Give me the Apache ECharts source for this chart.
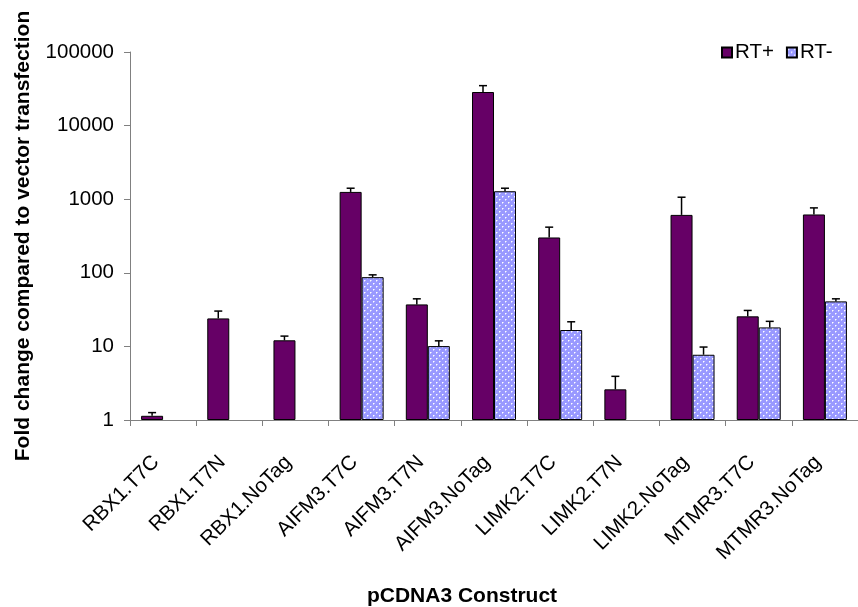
<!DOCTYPE html>
<html>
<head>
<meta charset="utf-8">
<script src="https://cdn.jsdelivr.net/npm/echarts@6/dist/echarts.min.js"></script>
<style>
  html, body { margin: 0; padding: 0; background: #fff; }
  #chart { width: 858px; height: 607px; }
</style>
</head>
<body>
<div id="chart"></div>
<script>
// Constructs on the x axis
const categories = ['RBX1.T7C', 'RBX1.T7N', 'RBX1.NoTag', 'AIFM3.T7C', 'AIFM3.T7N', 'AIFM3.NoTag',
                    'LIMK2.T7C', 'LIMK2.T7N', 'LIMK2.NoTag', 'MTMR3.T7C', 'MTMR3.NoTag'];
// Fold change with reverse transcriptase
const rtPlus    = [1.14, 24, 12.1, 1256, 37.2, 28600, 302, 2.61, 612, 25.6, 620];
const rtPlusErr = [0.12, 6.2, 1.7, 154, 7.1, 6300, 115, 1.31, 452, 5.2, 142];
// Fold change without reverse transcriptase (no value where not measured)
const rtMinus    = [null, null, null, 87.3, 10.1, 1283, 16.7, null, 7.7, 18.1, 40.9];
const rtMinusErr = [null, null, null, 6.5, 1.8, 127, 4.9, null, 2.1, 3.8, 3.4];
// Decade ticks of the log axis
const yTicks = [1, 10, 100, 1000, 10000, 100000];

const FONT = '"Liberation Sans", Arial, sans-serif';
const BAR_W = 22;

// Dotted fill for the RT- bars
function dotTile() {
  const c = document.createElement('canvas');
  c.width = 6; c.height = 6;
  const g = c.getContext('2d');
  g.fillStyle = '#9999FF';
  g.fillRect(0, 0, 6, 6);
  g.fillStyle = '#FFFFFF';
  g.fillRect(1, 1, 1, 1);
  g.fillRect(4, 4, 1, 1);
  g.fillStyle = 'rgba(255,255,255,0.5)';
  g.fillRect(2, 1, 1, 1); g.fillRect(1, 2, 1, 1);
  g.fillRect(5, 4, 1, 1); g.fillRect(4, 5, 1, 1);
  return c;
}
const dotted = { image: dotTile(), repeat: 'repeat' };

// Upper error whiskers drawn at the bar's slot within the category
function errorSeries(values, errs, side) {
  const data = [];
  values.forEach((v, i) => { if (v != null) data.push([i, v, errs[i]]); });
  return {
    type: 'custom',
    z: 5,
    silent: true,
    data: data,
    renderItem: function (params, api) {
      const i = api.value(0), v = api.value(1), e = api.value(2);
      const base = api.coord([i, v]);
      const top = api.coord([i, v + e]);
      const x = base[0] + side * BAR_W / 2;
      const cap = 4;
      const style = { stroke: '#000', lineWidth: 1.5 };
      return {
        type: 'group',
        children: [
          { type: 'line', shape: { x1: x, y1: base[1], x2: x, y2: top[1] }, style: style },
          { type: 'line', shape: { x1: x - cap, y1: top[1], x2: x + cap, y2: top[1] }, style: style }
        ]
      };
    }
  };
}

const chart = echarts.init(document.getElementById('chart'), null, { renderer: 'canvas' });
chart.setOption({
  backgroundColor: '#ffffff',
  animation: false,
  textStyle: { fontFamily: FONT },
  grid: { left: 130, top: 52, width: 735, height: 368, containLabel: false },
  legend: {
    data: ['RT+', 'RT-'],
    left: 716, top: 37,
    itemWidth: 10, itemHeight: 10, itemGap: 12,
    icon: 'rect',
    textStyle: { fontSize: 20.5, color: '#000', fontFamily: FONT, padding: [0, 0, 0, -2] }
  },
  xAxis: {
    type: 'category',
    data: categories,
    boundaryGap: true,
    axisLine: { lineStyle: { color: '#808080', width: 1 } },
    axisTick: { show: true, alignWithLabel: false, interval: 0, length: 6, lineStyle: { color: '#808080' } },
    axisLabel: { interval: 0, rotate: 45, margin: 32, fontSize: 20.5, color: '#000', fontFamily: FONT,
                 padding: [0, 10, 21, 0] }
  },
  yAxis: {
    type: 'log',
    logBase: 10,
    min: yTicks[0],
    max: yTicks[yTicks.length - 1],
    splitNumber: yTicks.length - 1,
    axisLine: { show: true, lineStyle: { color: '#808080', width: 1 } },
    axisTick: { show: true, length: 6, lineStyle: { color: '#808080' } },
    minorTick: { show: false },
    splitLine: { show: false },
    axisLabel: {
      fontSize: 20.5, color: '#000', margin: 16, fontFamily: FONT,
      formatter: v => String(Math.round(v))
    }
  },
  graphic: [
    {
      type: 'text', x: 23, y: 236, rotation: Math.PI / 2,
      style: { text: 'Fold change compared to vector transfection', font: 'bold 21px ' + FONT,
               fill: '#000', textAlign: 'center', textVerticalAlign: 'middle' }
    },
    {
      type: 'text', x: 462, y: 596,
      style: { text: 'pCDNA3 Construct', font: 'bold 21px ' + FONT,
               fill: '#000', textAlign: 'center', textVerticalAlign: 'middle' }
    }
  ],
  series: [
    {
      name: 'RT+', type: 'bar', data: rtPlus, barWidth: BAR_W, barGap: '0%',
      itemStyle: { color: '#660066', borderColor: '#000', borderWidth: 1 }
    },
    {
      name: 'RT-', type: 'bar', data: rtMinus, barWidth: BAR_W, barGap: '0%',
      itemStyle: { color: dotted, borderColor: '#000', borderWidth: 1 }
    },
    errorSeries(rtPlus, rtPlusErr, -1),
    errorSeries(rtMinus, rtMinusErr, 1)
  ]
});
</script>
</body>
</html>
